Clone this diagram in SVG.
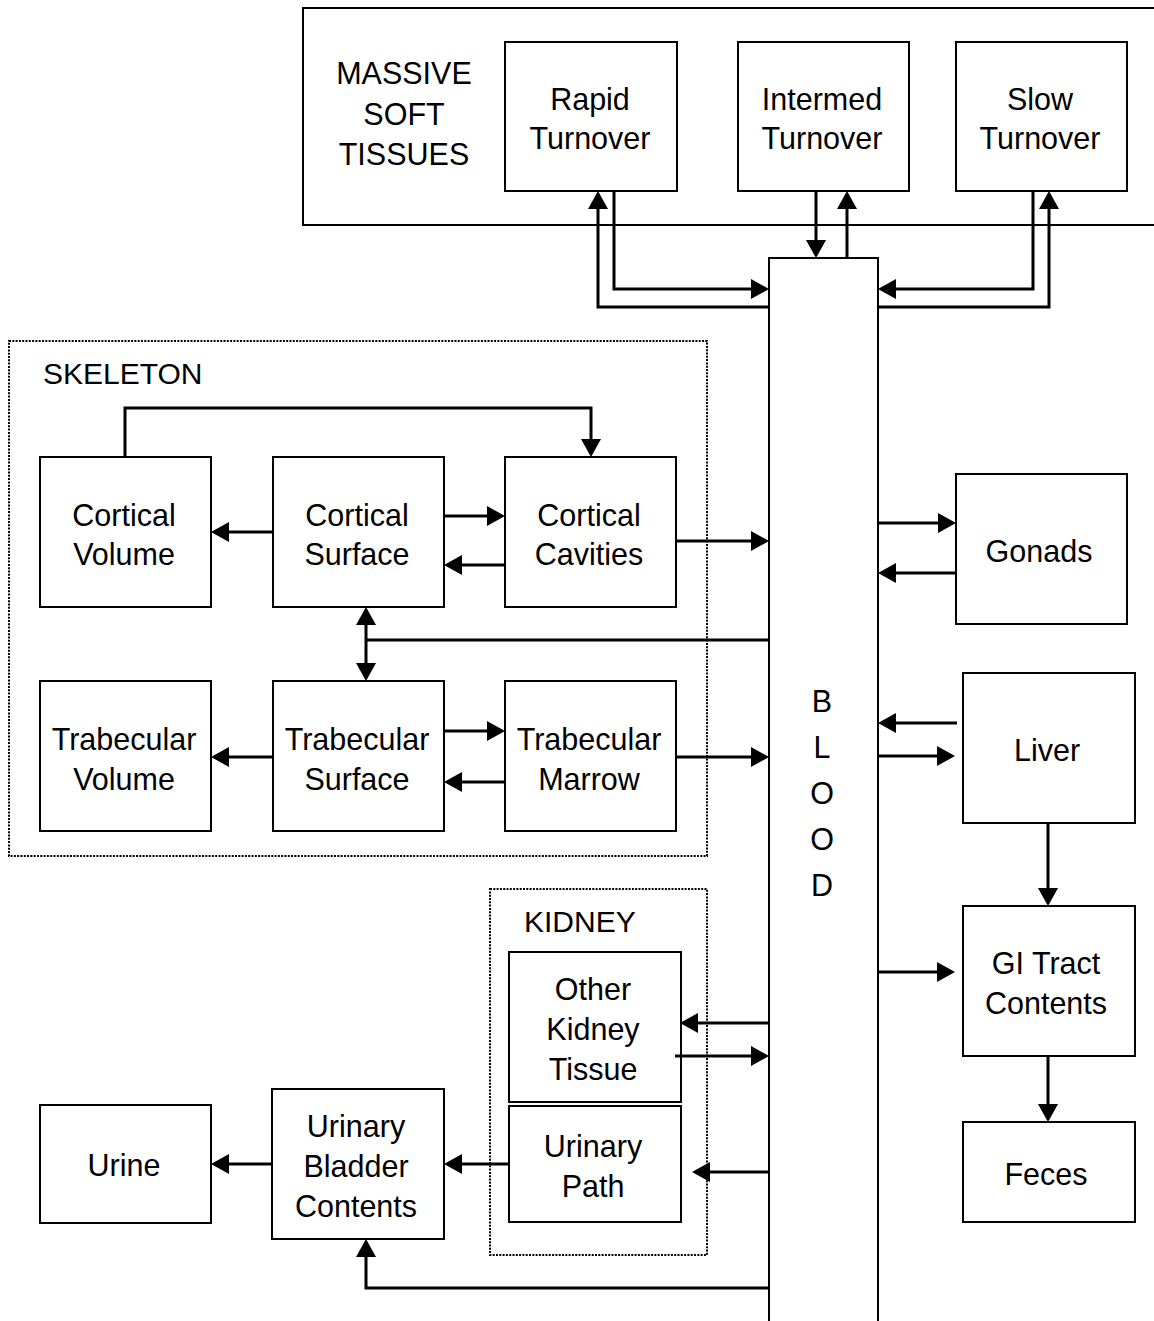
<svg xmlns="http://www.w3.org/2000/svg" width="1154" height="1321" viewBox="0 0 1154 1321">
<style>
.bx{fill:#fff;stroke:#000;stroke-width:2}
.dot{fill:none;stroke:#000;stroke-width:2;stroke-dasharray:2 1.3}
.t{font-family:"Liberation Sans",Arial,sans-serif;font-size:30.5px;fill:#000;text-anchor:middle}
.ts{font-family:"Liberation Sans",Arial,sans-serif;font-size:30px;fill:#000}
.c{fill:none;stroke:#000;stroke-width:3;marker-end:url(#a)}
.n{fill:none;stroke:#000;stroke-width:3}
</style>
<defs>
<marker id="a" viewBox="0 0 18 20" markerWidth="18" markerHeight="20" markerUnits="userSpaceOnUse" refX="15" refY="10" orient="auto-start-reverse">
<path d="M0,0 L18,10 L0,20 z" fill="#000"/>
</marker>
</defs>
<rect width="1154" height="1321" fill="#fff"/>

<g id="massive">
<rect class="bx" x="303" y="8" width="900" height="217"/>
<text class="t" x="404" y="84">MASSIVE</text>
<text class="t" x="404" y="125">SOFT</text>
<text class="t" x="404" y="165">TISSUES</text>
</g>
<g id="rapid"><rect class="bx" x="505" y="42" width="172" height="149"/><text class="t" x="590" y="110">Rapid</text><text class="t" x="590" y="149">Turnover</text></g>
<g id="intermed"><rect class="bx" x="738" y="42" width="171" height="149"/><text class="t" x="822" y="110">Intermed</text><text class="t" x="822" y="149">Turnover</text></g>
<g id="slow"><rect class="bx" x="956" y="42" width="171" height="149"/><text class="t" x="1040" y="110">Slow</text><text class="t" x="1040" y="149">Turnover</text></g>

<g id="blood">
<rect class="bx" x="769" y="258" width="109" height="1100"/>
<text class="t" x="822" y="712">B</text>
<text class="t" x="822" y="758">L</text>
<text class="t" x="822" y="804">O</text>
<text class="t" x="822" y="850">O</text>
<text class="t" x="822" y="896">D</text>
</g>

<g id="skeleton">
<rect class="dot" x="9" y="341" width="698" height="515"/>
<text class="ts" x="43" y="384">SKELETON</text>
</g>
<g id="cortical-volume"><rect class="bx" x="40" y="457" width="171" height="150"/><text class="t" x="124" y="526">Cortical</text><text class="t" x="124" y="565">Volume</text></g>
<g id="cortical-surface"><rect class="bx" x="273" y="457" width="171" height="150"/><text class="t" x="357" y="526">Cortical</text><text class="t" x="357" y="565">Surface</text></g>
<g id="cortical-cavities"><rect class="bx" x="505" y="457" width="171" height="150"/><text class="t" x="589" y="526">Cortical</text><text class="t" x="589" y="565">Cavities</text></g>
<g id="trabecular-volume"><rect class="bx" x="40" y="681" width="171" height="150"/><text class="t" x="124" y="750">Trabecular</text><text class="t" x="124" y="790">Volume</text></g>
<g id="trabecular-surface"><rect class="bx" x="273" y="681" width="171" height="150"/><text class="t" x="357" y="750">Trabecular</text><text class="t" x="357" y="790">Surface</text></g>
<g id="trabecular-marrow"><rect class="bx" x="505" y="681" width="171" height="150"/><text class="t" x="589" y="750">Trabecular</text><text class="t" x="589" y="790">Marrow</text></g>

<g id="gonads"><rect class="bx" x="956" y="474" width="171" height="150"/><text class="t" x="1039" y="562">Gonads</text></g>
<g id="liver"><rect class="bx" x="963" y="673" width="172" height="150"/><text class="t" x="1047" y="761">Liver</text></g>
<g id="gi"><rect class="bx" x="963" y="906" width="172" height="150"/><text class="t" x="1046" y="974">GI Tract</text><text class="t" x="1046" y="1014">Contents</text></g>
<g id="feces"><rect class="bx" x="963" y="1122" width="172" height="100"/><text class="t" x="1046" y="1185">Feces</text></g>

<g id="kidney">
<rect class="dot" x="490" y="889" width="217" height="366"/>
<text class="ts" x="524" y="932">KIDNEY</text>
</g>
<g id="other-kidney"><rect class="bx" x="509" y="952" width="172" height="150"/><text class="t" x="593" y="1000">Other</text><text class="t" x="593" y="1040">Kidney</text><text class="t" x="593" y="1080">Tissue</text></g>
<g id="urinary-path"><rect class="bx" x="509" y="1106" width="172" height="116"/><text class="t" x="593" y="1157">Urinary</text><text class="t" x="593" y="1197">Path</text></g>
<g id="bladder"><rect class="bx" x="272" y="1089" width="172" height="150"/><text class="t" x="356" y="1137">Urinary</text><text class="t" x="356" y="1177">Bladder</text><text class="t" x="356" y="1217">Contents</text></g>
<g id="urine"><rect class="bx" x="40" y="1105" width="171" height="118"/><text class="t" x="124" y="1176">Urine</text></g>

<g id="connectors">
<path class="c" d="M614,191 V289 H766"/>
<path class="c" d="M769,307 H598 V194"/>
<path class="c" d="M816,191 V255"/>
<path class="c" d="M847,258 V194"/>
<path class="c" d="M1033,191 V289 H881"/>
<path class="c" d="M878,307 H1049 V194"/>
<path class="c" d="M125,457 V408 H591 V454"/>
<path class="c" d="M444,516 H502"/>
<path class="c" d="M505,565 H447"/>
<path class="c" d="M273,532 H214"/>
<path class="c" d="M676,541 H766"/>
<path class="n" d="M769,640 H366"/>
<path class="c" d="M366,610 V678" style="marker-start:url(#a)"/>
<path class="c" d="M444,731 H502"/>
<path class="c" d="M505,782 H447"/>
<path class="c" d="M273,757 H214"/>
<path class="c" d="M676,757 H766"/>
<path class="c" d="M878,523 H953"/>
<path class="c" d="M956,573 H881"/>
<path class="c" d="M957,723 H881"/>
<path class="c" d="M878,756 H952"/>
<path class="c" d="M1048,823 V903"/>
<path class="c" d="M878,972 H952"/>
<path class="c" d="M1048,1056 V1119"/>
<path class="c" d="M769,1023 H683"/>
<path class="c" d="M675,1056 H766"/>
<path class="c" d="M769,1172 H695"/>
<path class="c" d="M509,1164 H447"/>
<path class="c" d="M272,1164 H214"/>
<path class="c" d="M769,1288 H366 V1242"/>
</g>
</svg>
